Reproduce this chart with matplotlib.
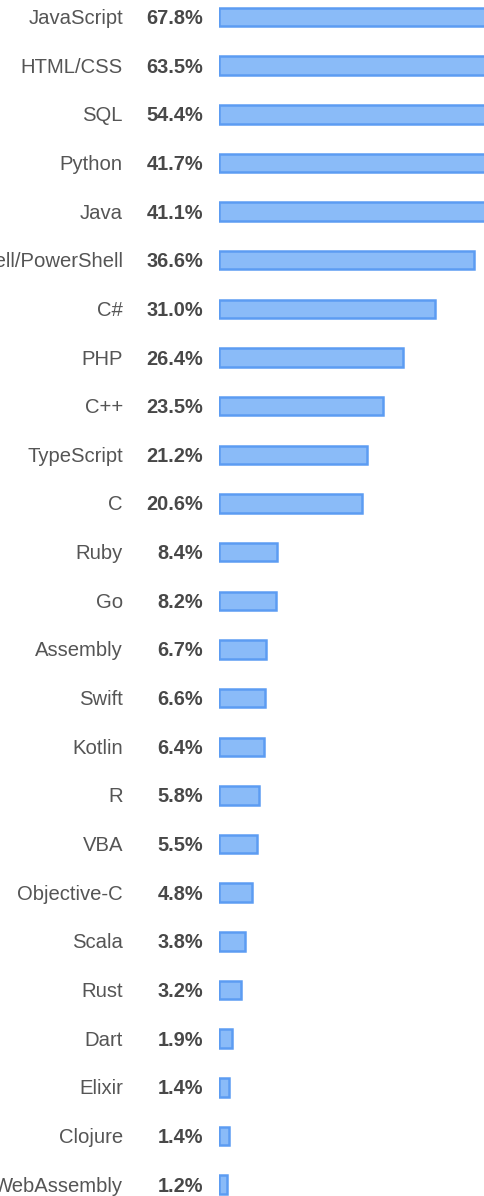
import numpy as np
import matplotlib.pyplot as plt
import matplotlib.transforms as mtransforms

languages = ['JavaScript', 'HTML/CSS', 'SQL', 'Python', 'Java',
             'Bash/Shell/PowerShell', 'C#', 'PHP', 'C++', 'TypeScript', 'C',
             'Ruby', 'Go', 'Assembly', 'Swift', 'Kotlin', 'R', 'VBA',
             'Objective-C', 'Scala', 'Rust', 'Dart', 'Elixir', 'Clojure',
             'WebAssembly']
share = [67.8, 63.5, 54.4, 41.7, 41.1, 36.6, 31.0, 26.4, 23.5, 21.2, 20.6,
         8.4, 8.2, 6.7, 6.6, 6.4, 5.8, 5.5, 4.8, 3.8, 3.2, 1.9, 1.4, 1.4, 1.2]

W, H, DPI = 485, 1196, 100
fig = plt.figure(figsize=(W / DPI, H / DPI), dpi=DPI)
fig.patch.set_facecolor('white')

# bar area starts at x=219 px and runs off the right edge
ax = fig.add_axes([219 / W, 0, 1 - 219 / W, 1])
row_px = 48.65
first_px = 17
ys = np.arange(len(languages))
ax.barh(ys, share, height=0.38, color='#8abbf8', edgecolor='#5c9cf2',
        linewidth=1.8, align='center')
ax.set_xlim(0, (W - 219) / 6.96)
ax.set_ylim((H - first_px) / row_px, -first_px / row_px)
ax.axis('off')

# labels in figure pixels horizontally, data rows vertically
trans = mtransforms.blended_transform_factory(
    mtransforms.Affine2D().scale(1 / W, 1) + fig.transFigure, ax.transData)
for y, name, val in zip(ys, languages, share):
    ax.text(123, y + 0.03, name, transform=trans, ha='right', va='center',
            fontsize=14.6, family='Liberation Sans', color='#555555',
            clip_on=False)
    ax.text(203, y + 0.03, '%.1f%%' % val, transform=trans, ha='right',
            va='center', fontsize=14.4, family='Liberation Sans',
            fontweight='bold', color='#484848', clip_on=False)

fig.savefig('out.png', dpi=DPI)
